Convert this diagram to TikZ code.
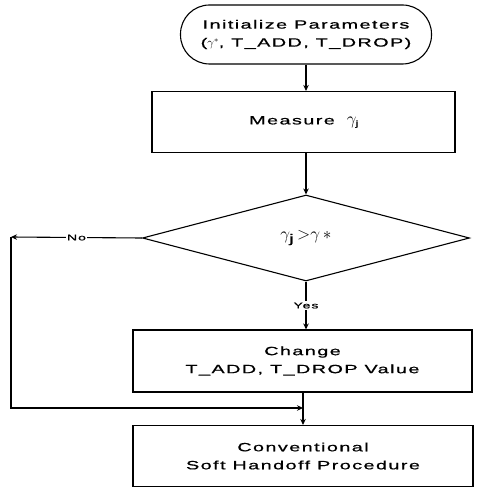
\documentclass[tikz,border=0pt]{standalone}
\usepackage{fontspec}
\setmainfont{Liberation Sans}[FakeStretch=1.65, LetterSpace=12, FakeBold=0.8]
\usetikzlibrary{shapes.geometric,arrows.meta}
\tikzset{
  box/.style={draw, line width=1.1pt, rectangle, inner sep=0pt, align=center, font=\fontsize{12}{18}\selectfont},
  term/.style={box, rounded corners=29pt},
  decide/.style={draw, line width=1.1pt, diamond, inner sep=0pt, font=\fontsize{12}{18}\selectfont},
  conn/.style={line width=1.1pt},
  arr/.style={conn, -{Stealth[length=6pt,width=5.5pt]}},
  lbl/.style={font=\fontsize{8.5}{9}\selectfont, fill=white, inner sep=1.5pt}
}
\begin{document}
\begin{tikzpicture}[x=1pt,y=-1pt]
\useasboundingbox (0,0) rectangle (477,489);
\node[term, minimum width=251pt, minimum height=59pt] (init) at (306,34.5)
  {Initialize Parameters\\($\gamma^{*}$, T\_ADD, T\_DROP)};
\node[box, minimum width=303pt, minimum height=61pt] (meas) at (303.5,122)
  {Measure\quad {\LARGE$\gamma$}\kern-1pt{\large$_{\mathrm{j}}$}};
\node[decide, minimum width=327pt, minimum height=86pt] (dec) at (306,238)
  {{\LARGE$\gamma_{\mathrm{j}}\;{>}\gamma\,{*}$}};
\node[box, minimum width=339pt, minimum height=62pt] (chg) at (302.5,361)
  {Change\\T\_ADD, T\_DROP Value};
\node[box, minimum width=340pt, minimum height=61pt] (conv) at (303,456)
  {Conventional\\Soft Handoff Procedure};
\coordinate (nocorner) at (11,237);
\coordinate (merge) at (303,408);
\draw[arr] (init.south -| 306,0) -- (meas.north -| 306,0);
\draw[arr] (meas.south -| 306,0) -- (dec.north);
\draw[arr] (dec.west) -- node[lbl, pos=0.5] {No} (nocorner);
\draw[arr] (nocorner) |- (merge);
\draw[arr] (dec.south) -- node[lbl, pos=0.5] {Yes} (dec.south |- chg.north);
\draw[arr] (chg.south -| 303,0) -- (conv.north -| 303,0);
\end{tikzpicture}
\end{document}
